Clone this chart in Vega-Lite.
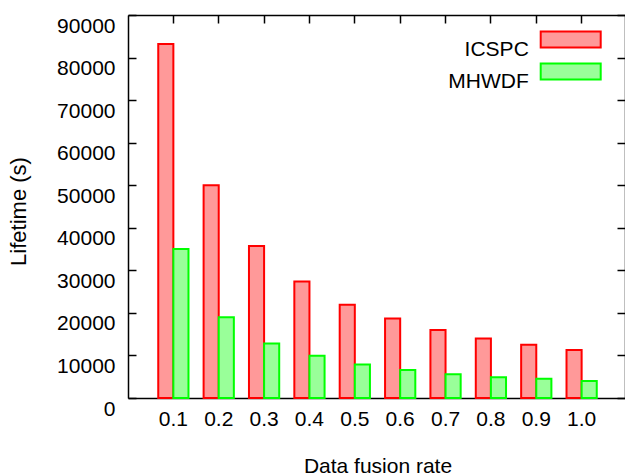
{
  "$schema": "https://vega.github.io/schema/vega-lite/v6.json",
  "width": 497,
  "height": 383,
  "autosize": {"type": "none"},
  "padding": {"left": 128, "top": 15, "right": 0, "bottom": 78},
  "background": "white",
  "config": {
    "view": {"stroke": null},
    "font": "Liberation Sans",
    "axis": {
      "labelFont": "Liberation Sans",
      "labelFontSize": 21,
      "labelColor": "#000",
      "titleFont": "Liberation Sans",
      "titleFontSize": 21,
      "titleFontWeight": "normal",
      "titleColor": "#000",
      "domainColor": "#000",
      "domainWidth": 1.5,
      "tickColor": "#000",
      "tickWidth": 1.5,
      "tickSize": -8,
      "grid": false,
      "labelFlush": false,
      "labelOverlap": false
    },
    "legend": {
      "orient": "none",
      "legendX": 432.2,
      "legendY": 13.9,
      "padding": 0,
      "rowPadding": -3,
      "labelFont": "Liberation Sans",
      "labelFontSize": 21,
      "labelColor": "#000",
      "labelAlign": "right",
      "labelBaseline": "top",
      "labelOffset": -52.4,
      "labelLimit": 300,
      "symbolType": "M-3.75,-1H3.75V1H-3.75Z",
      "symbolSize": 256,
      "symbolStrokeWidth": 2,
      "symbolOffset": 0
    }
  },
  "data": {
    "values": [
      {"rate": "0.1", "method": "ICSPC", "lifetime": 83200},
      {"rate": "0.1", "method": "MHWDF", "lifetime": 35000},
      {"rate": "0.2", "method": "ICSPC", "lifetime": 50000},
      {"rate": "0.2", "method": "MHWDF", "lifetime": 19000},
      {"rate": "0.3", "method": "ICSPC", "lifetime": 35700},
      {"rate": "0.3", "method": "MHWDF", "lifetime": 12800},
      {"rate": "0.4", "method": "ICSPC", "lifetime": 27400},
      {"rate": "0.4", "method": "MHWDF", "lifetime": 9900},
      {"rate": "0.5", "method": "ICSPC", "lifetime": 21900},
      {"rate": "0.5", "method": "MHWDF", "lifetime": 7900},
      {"rate": "0.6", "method": "ICSPC", "lifetime": 18700},
      {"rate": "0.6", "method": "MHWDF", "lifetime": 6600},
      {"rate": "0.7", "method": "ICSPC", "lifetime": 16000},
      {"rate": "0.7", "method": "MHWDF", "lifetime": 5600},
      {"rate": "0.8", "method": "ICSPC", "lifetime": 14000},
      {"rate": "0.8", "method": "MHWDF", "lifetime": 4900},
      {"rate": "0.9", "method": "ICSPC", "lifetime": 12500},
      {"rate": "0.9", "method": "MHWDF", "lifetime": 4500},
      {"rate": "1.0", "method": "ICSPC", "lifetime": 11300},
      {"rate": "1.0", "method": "MHWDF", "lifetime": 4000}
    ]
  },
  "resolve": {"axis": {"x": "independent", "y": "independent"}},
  "layer": [
    {
      "mark": {"type": "bar", "strokeWidth": 2, "fillOpacity": 1},
      "encoding": {
        "x": {
          "field": "rate", "type": "nominal", "sort": null,
          "scale": {"paddingInner": 0, "paddingOuter": 0.5, "range": [0, 499]},
          "axis": {"orient": "bottom", "title": "Data fusion rate", "labelAngle": 0, "labelPadding": 18.4, "labelBaseline": "top", "titleY": 74, "titleBaseline": "alphabetic"}
        },
        "xOffset": {
          "field": "method", "type": "nominal", "sort": ["ICSPC", "MHWDF"],
          "scale": {"paddingInner": 0, "paddingOuter": 0.5}
        },
        "y": {
          "field": "lifetime", "type": "quantitative",
          "scale": {"domain": [0, 90000], "nice": false, "zero": true},
          "axis": {"orient": "left", "title": "Lifetime (s)", "values": [0, 10000, 20000, 30000, 40000, 50000, 60000, 70000, 80000, 90000], "format": "d", "labelPadding": 21, "labelBaseline": "top", "titleFontSize": 22, "titleX": -102.5, "titleY": 196, "titleBaseline": "alphabetic"}
        },
        "fill": {
          "field": "method", "type": "nominal",
          "scale": {"domain": ["ICSPC", "MHWDF"], "range": ["#ff9999", "#99ff99"]},
          "legend": {"title": null}
        },
        "stroke": {
          "field": "method", "type": "nominal",
          "scale": {"domain": ["ICSPC", "MHWDF"], "range": ["#ff0000", "#00ff00"]},
          "legend": {"title": null}
        }
      }
    },
    {
      "mark": {"type": "bar", "opacity": 0},
      "encoding": {
        "x": {
          "field": "rate", "type": "nominal", "sort": null,
          "axis": {"orient": "top", "title": null, "labels": false}
        },
        "xOffset": {"field": "method", "type": "nominal", "sort": ["ICSPC", "MHWDF"]},
        "y": {
          "field": "lifetime", "type": "quantitative",
          "axis": {"orient": "right", "title": null, "labels": false, "values": [0, 10000, 20000, 30000, 40000, 50000, 60000, 70000, 80000, 90000]}
        }
      }
    }
  ]
}
